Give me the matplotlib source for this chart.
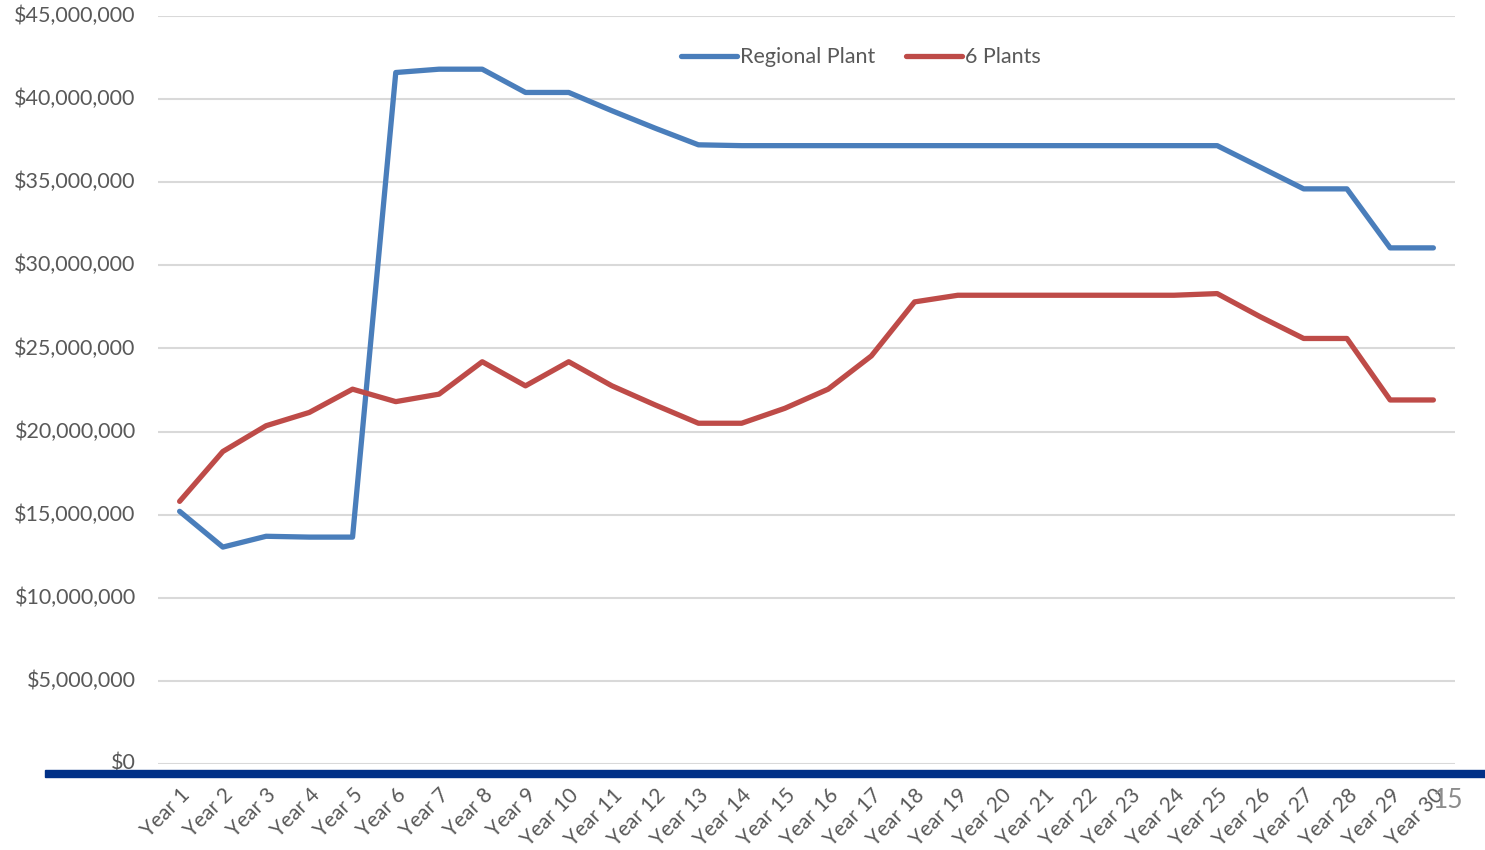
import matplotlib
matplotlib.use("Agg")
import matplotlib.pyplot as plt
from matplotlib.ticker import FuncFormatter

years = [f"Year {i}" for i in range(1, 31)]
regional_plant = [15.2, 13.05, 13.7, 13.65, 13.65, 41.6, 41.8, 41.8, 40.4, 40.4,
                  39.3, 38.25, 37.25, 37.2, 37.2, 37.2, 37.2, 37.2, 37.2, 37.2,
                  37.2, 37.2, 37.2, 37.2, 37.2, 35.9, 34.6, 34.6, 31.05, 31.05]
six_plants = [15.8, 18.8, 20.35, 21.15, 22.55, 21.8, 22.25, 24.2, 22.75, 24.2,
              22.75, 21.6, 20.5, 20.5, 21.4, 22.55, 24.55, 27.8, 28.2, 28.2,
              28.2, 28.2, 28.2, 28.2, 28.3, 26.9, 25.6, 25.6, 21.9, 21.9]
y_ticks_m = [0, 5, 10, 15, 20, 25, 30, 35, 40, 45]

plt.rcParams['font.family'] = ['Lato', 'DejaVu Sans']

fig = plt.figure(figsize=(14.85, 8.5), dpi=100)
ax = fig.add_axes([158/1485, 1-764/850, (1455-158)/1485, (764-16)/850])

x = list(range(1, len(years) + 1))
vals_r = [v * 1e6 for v in regional_plant]
vals_s = [v * 1e6 for v in six_plants]
ax.plot(x, vals_r, color='#4A7EBB', lw=3.8, label='Regional Plant', solid_capstyle='round', zorder=3)
ax.plot(x, vals_s, color='#BE4B48', lw=3.8, label='6 Plants', solid_capstyle='round', zorder=3)

ax.set_xlim(0.5, 30.5)
ax.set_ylim(0, 45e6)
ax.set_yticks([v * 1e6 for v in y_ticks_m])
ax.yaxis.set_major_formatter(FuncFormatter(lambda v, p: f"${v:,.0f}"))
ax.grid(axis='y', color='#D9D9D9', lw=1.5, zorder=0)
for s in ax.spines.values():
    s.set_visible(False)
ax.tick_params(axis='y', length=0, labelsize=15.5, labelcolor='#595959', pad=16)
ax.set_xticks(x)
ax.set_xticklabels(years, rotation=45, ha='right', va='top', rotation_mode='anchor')
ax.tick_params(axis='x', length=0, labelsize=15, labelcolor='#595959', pad=15)
for lbl in ax.get_yticklabels():
    lbl.set_verticalalignment('center')

leg = ax.legend(loc='center', bbox_to_anchor=(0.542, 0.945), ncol=2, frameon=False,
                fontsize=15.5, handlelength=2.6, handletextpad=0.15, columnspacing=1.4,
                labelcolor='#595959')

# navy band across the bottom
fig.patches.append(plt.Rectangle((45/1485, 1-777/850), 1-45/1485, 7/850,
                                 transform=fig.transFigure, color='#003087', zorder=5))
fig.text(1448/1485, 1-801/850, "15", fontsize=19, color='#8C8C8C', ha='center', va='center')

fig.savefig("out.png", dpi=100)
